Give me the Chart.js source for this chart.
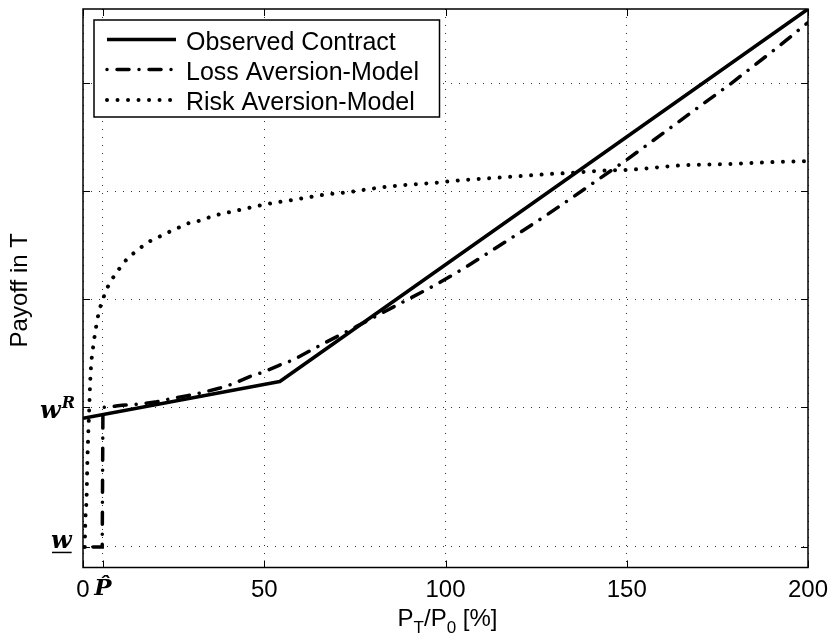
<!DOCTYPE html>
<html>
<head>
<meta charset="utf-8">
<title>Payoff in T</title>
<script src="https://cdn.jsdelivr.net/npm/chart.js@4.4.1/dist/chart.umd.min.js"></script>
<style>
    html, body { margin: 0; padding: 0; background: #fff; }
</style>
</head>
<body>
<canvas id="myChart" width="830" height="634"></canvas>
<script>
// ---- data (x = P_T/P_0 in %, y = payoff, grid step of 1 above w^R) ----
var xTickValues = [0, 5.5, 50, 100, 150, 200];
var xTickLabels = ['0', 'P\u0302', '50', '100', '150', '200'];
var yW = -0.29;   // w (underlined)
var yWR = 1;      // w^R
var yTickValues = [yW, yWR, 2, 3, 4];

var seriesLabels = ['Observed Contract', 'Loss Aversion-Model', 'Risk Aversion-Model'];

var observedX = [0, 54.3, 200];
var observedY = [0.90, 1.24, 4.686];

var lossX = [0, 5.3, 5.5, 10.7, 14.8, 19.9, 24.0, 28.8, 33.2, 37.8, 41.5, 46.3, 50.0, 54.1, 58.0,
             63.5, 66.8, 73.2, 75.5, 82.8, 90.2, 97.6, 105.2, 112.7, 120.6, 127.9, 135.3, 142.6,
             149.5, 156.9, 163.8, 171.1, 178.5, 185.4, 192.3, 199.2, 200];
var lossY = [-0.29, -0.29, 1.00, 1.02, 1.03, 1.05, 1.08, 1.11, 1.14, 1.18, 1.22, 1.29, 1.33, 1.39, 1.44,
             1.54, 1.60, 1.71, 1.75, 1.88, 2.01, 2.14, 2.29, 2.45, 2.62, 2.78, 2.95, 3.12,
             3.28, 3.46, 3.63, 3.81, 3.99, 4.17, 4.35, 4.54, 4.56];

var riskX = [0.5, 0.6, 1.0, 1.2, 1.46, 1.74, 1.93, 2.21, 2.68, 3.12, 3.59, 4.5, 5.43, 6.15, 7.45, 8.83,
             10.4, 12.06, 14.07, 16.36, 18.57, 21.05, 23.53, 26.12, 28.69, 31.37, 34.01, 36.77, 39.45,
             42.2, 44.97, 47.64, 50.4, 55.9, 61.5, 67.0, 72.7, 81.0, 89.5, 97.8, 103.5, 111.9, 120.4,
             128.8, 134.3, 142.8, 151.1, 165.2, 176.6, 190.4, 200];
var riskY = [-0.29, -0.10, 0.18, 0.49, 0.76, 1.01, 1.19, 1.38, 1.53, 1.64, 1.74, 1.90, 1.99, 2.07, 2.15, 2.23,
             2.30, 2.37, 2.43, 2.49, 2.54, 2.58, 2.62, 2.66, 2.70, 2.72, 2.75, 2.78, 2.80,
             2.82, 2.84, 2.86, 2.88, 2.91, 2.94, 2.97, 2.99, 3.03, 3.06, 3.08, 3.10, 3.12, 3.14,
             3.16, 3.17, 3.19, 3.20, 3.24, 3.25, 3.27, 3.28];

function toPoints(xs, ys) {
    return xs.map(function (x, i) { return { x: x, y: ys[i] }; });
}

var SANS = '"Liberation Sans", Arial, sans-serif';
var SERIF = '"DejaVu Serif", serif';

// draws the inward ticks, the box, the legend, the math labels and the axis titles
var decorPlugin = {
    id: 'decor',
    afterDraw: function (chart) {
        var ctx = chart.ctx;
        var a = chart.chartArea;
        var xs = chart.scales.x;
        var ys = chart.scales.y;
        ctx.save();

        // inward tick marks
        ctx.strokeStyle = '#000';
        ctx.lineWidth = 1;
        ctx.beginPath();
        xTickValues.forEach(function (v) {
            var px = Math.round(xs.getPixelForValue(v)) + 0.5;
            ctx.moveTo(px, a.bottom); ctx.lineTo(px, a.bottom - 7);
            ctx.moveTo(px, a.top); ctx.lineTo(px, a.top + 7);
        });
        yTickValues.forEach(function (v) {
            var py = Math.round(ys.getPixelForValue(v)) + 0.5;
            ctx.moveTo(a.left, py); ctx.lineTo(a.left + 7, py);
            ctx.moveTo(a.right, py); ctx.lineTo(a.right - 7, py);
        });
        ctx.stroke();

        // axes box
        ctx.lineWidth = 1.5;
        ctx.strokeRect(a.left, a.top, a.right - a.left, a.bottom - a.top);

        // legend
        var lx = 94, ly = 20, lw = 345.5, lh = 97;
        ctx.fillStyle = '#fff';
        ctx.fillRect(lx, ly, lw, lh);
        ctx.lineWidth = 1.5;
        ctx.strokeStyle = '#000';
        ctx.strokeRect(lx, ly, lw, lh);
        var rowsY = [39.5, 69.5, 100];
        chart.data.datasets.forEach(function (ds, i) {
            ctx.save();
            ctx.strokeStyle = '#000';
            ctx.lineWidth = ds.borderWidth;
            ctx.lineCap = ds.borderCapStyle || 'butt';
            ctx.setLineDash(ds.borderDash || []);
            ctx.beginPath();
            ctx.moveTo(107, rowsY[i]);
            ctx.lineTo(176, rowsY[i]);
            ctx.stroke();
            ctx.restore();
            ctx.fillStyle = '#000';
            ctx.font = '25px ' + SANS;
            ctx.textAlign = 'left';
            ctx.textBaseline = 'alphabetic';
            ctx.fillText(ds.label, 186, rowsY[i] + 10);
        });

        // y tick labels: underlined w and w^R
        ctx.fillStyle = '#000';
        ctx.textAlign = 'left';
        ctx.textBaseline = 'alphabetic';
        var pyR = ys.getPixelForValue(yWR);
        ctx.font = 'italic bold 24px ' + SERIF;
        var ww = ctx.measureText('w').width;
        ctx.fillText('w', 40, pyR + 10.5);
        ctx.font = 'italic bold 16px ' + SERIF;
        ctx.fillText('R', 41 + ww, pyR + 1);

        var pyW = ys.getPixelForValue(yW);
        ctx.font = 'italic bold 24px ' + SERIF;
        ctx.fillText('w', 51, pyW + 1.5);
        ctx.lineWidth = 1.5;
        ctx.beginPath();
        ctx.moveTo(52, pyW + 5.5);
        ctx.lineTo(51 + ww, pyW + 5.5);
        ctx.stroke();

        // x axis title  P_T/P_0 [%]
        var parts = [['P', 0], ['T', 1], ['/P', 0], ['0', 1], [' [%]', 0]];
        var total = 0;
        parts.forEach(function (p) {
            ctx.font = (p[1] ? '17px ' : '24px ') + SANS;
            total += ctx.measureText(p[0]).width;
        });
        var cx = 447.5 - total / 2;
        parts.forEach(function (p) {
            ctx.font = (p[1] ? '17px ' : '24px ') + SANS;
            ctx.fillText(p[0], cx, p[1] ? 633 : 626);
            cx += ctx.measureText(p[0]).width;
        });

        // y axis title
        ctx.save();
        ctx.translate(27, (a.top + a.bottom) / 2 + 2);
        ctx.rotate(-Math.PI / 2);
        ctx.textAlign = 'center';
        ctx.font = '24px ' + SANS;
        ctx.fillText('Payoff in T', 0, 0);
        ctx.restore();

        ctx.restore();
    }
};

var ctx = document.getElementById('myChart').getContext('2d');
var chart = new Chart(ctx, {
    type: 'line',
    data: {
        datasets: [{
            label: seriesLabels[0],
            data: toPoints(observedX, observedY),
            borderColor: '#000',
            borderWidth: 3.5,
            borderCapStyle: 'butt',
            borderJoinStyle: 'round',
            pointRadius: 0,
            tension: 0
        }, {
            label: seriesLabels[1],
            data: toPoints(lossX, lossY),
            borderColor: '#000',
            borderWidth: 3.5,
            borderDash: [0.01, 10, 12, 10],
            borderCapStyle: 'round',
            pointRadius: 0,
            tension: 0
        }, {
            label: seriesLabels[2],
            data: toPoints(riskX, riskY),
            borderColor: '#000',
            borderWidth: 4,
            borderDash: [0.01, 10.5],
            borderCapStyle: 'round',
            pointRadius: 0,
            cubicInterpolationMode: 'monotone'
        }]
    },
    options: {
        responsive: false,
        animation: false,
        events: [],
        layout: { padding: { left: 0, right: 22, top: 9, bottom: 0 } },
        plugins: {
            legend: { display: false },
            tooltip: { enabled: false }
        },
        scales: {
            x: {
                type: 'linear',
                min: 0,
                max: 200,
                afterBuildTicks: function (scale) {
                    scale.ticks = xTickValues.map(function (v) { return { value: v }; });
                },
                afterFit: function (scale) {
                    scale.height = 66.5;
                    scale.paddingLeft = 0;
                    scale.paddingRight = 0;
                },
                grid: { color: '#333', lineWidth: 1, drawTicks: false },
                border: { display: false, dash: [1, 7] },
                ticks: {
                    autoSkip: false,
                    maxRotation: 0,
                    padding: 8,
                    color: '#000',
                    font: function (c) {
                        return c.index === 1
                            ? { family: SERIF, size: 23, style: 'italic', weight: 'bold' }
                            : { family: SANS, size: 24 };
                    },
                    callback: function (value, index) { return xTickLabels[index]; }
                }
            },
            y: {
                type: 'linear',
                min: -0.48,
                max: 4.686,
                afterBuildTicks: function (scale) {
                    scale.ticks = yTickValues.map(function (v) { return { value: v }; });
                },
                afterFit: function (scale) {
                    scale.width = 83;
                    scale.paddingTop = 0;
                    scale.paddingBottom = 0;
                },
                grid: { color: '#333', lineWidth: 1, drawTicks: false },
                border: { display: false, dash: [1, 7] },
                ticks: { display: false }
            }
        }
    },
    plugins: [decorPlugin]
});
</script>
</body>
</html>
